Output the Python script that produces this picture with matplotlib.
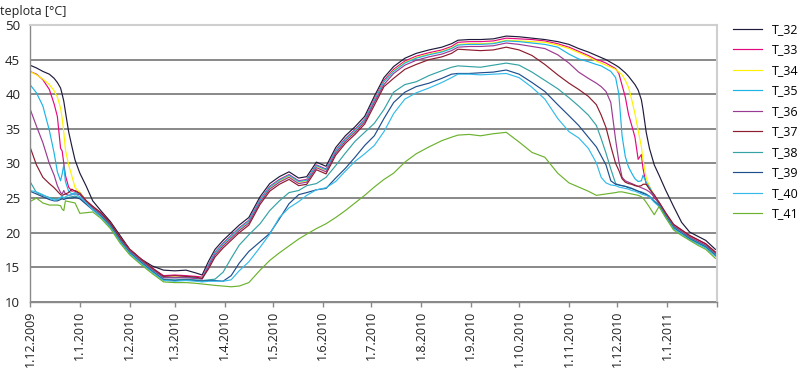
import matplotlib
matplotlib.use('Agg')
import matplotlib.pyplot as plt
import pandas as pd

plt.rcParams['font.family'] = ['Open Sans', 'DejaVu Sans']

start_date = '2009-12-01'
end_date = '2011-02-01'

# day offsets from 1.12.2009 at which values were read
day_offsets = [0, 4, 8, 12, 15, 17, 19, 20, 21, 22,
               24, 26, 28, 31, 35, 39, 44, 50, 56, 62,
               69, 76, 83, 90, 97, 103, 107, 111, 115, 120,
               125, 130, 136, 143, 149, 155, 161, 167, 172, 178,
               184, 190, 196, 202, 208, 214, 220, 226, 233, 240,
               248, 256, 262, 266, 273, 280, 288, 296, 304, 312,
               320, 328, 335, 341, 347, 352, 355, 358, 361, 364,
               366, 368, 370, 372, 374, 376, 378, 380, 381, 383,
               385, 388, 391, 395, 400, 405, 410, 415, 420, 426]

T_32 = [44.2, 43.8, 43.3, 42.9, 42.3, 41.7, 40.9, 40.0, 39.0, 37.5,
        34.6, 32.5, 30.5, 28.6, 26.7, 24.6, 23.2, 21.6, 19.6, 17.6,
        16.2, 15.2, 14.6, 14.5, 14.6, 14.2, 13.9, 15.9, 17.6, 18.9,
        20.0, 21.1, 22.2, 25.2, 27.1, 28.1, 28.8, 27.9, 28.1, 30.2,
        29.6, 32.3, 34.0, 35.3, 36.8, 39.7, 42.4, 44.0, 45.2, 45.9,
        46.4, 46.8, 47.3, 47.8, 47.9, 47.9, 48.0, 48.4, 48.3, 48.1,
        47.9, 47.6, 47.2, 46.6, 46.1, 45.6, 45.3, 45.0, 44.6, 44.2,
        43.9, 43.5, 43.1, 42.6, 42.0, 41.4, 40.6, 39.2, 37.8, 34.5,
        32.2, 29.8, 28.3, 26.2, 23.8, 21.5, 20.1, 19.5, 18.9, 17.6]

T_33 = [43.3, 42.9, 42.1, 40.7, 38.6, 36.8, 32.2, 31.8, 30.0, 28.3,
        26.6, 26.0, 26.1, 25.8, 24.6, 23.8, 22.9, 21.4, 19.3, 17.6,
        16.2, 14.9, 13.8, 13.9, 13.8, 13.7, 13.6, 15.4, 17.2, 18.5,
        19.6, 20.7, 21.8, 24.8, 26.7, 27.7, 28.4, 27.5, 27.7, 29.8,
        29.2, 31.9, 33.6, 34.9, 36.4, 39.3, 42.0, 43.6, 44.8, 45.5,
        46.0, 46.4, 46.9, 47.5, 47.6, 47.6, 47.7, 48.1, 48.0, 47.9,
        47.7, 47.3, 46.8, 46.2, 45.6, 45.0, 44.8, 44.5, 44.1, 43.7,
        43.0, 41.3, 39.6, 37.1, 35.5, 33.8, 30.6, 31.3, 29.3, 27.0,
        26.6, 25.0, 24.4, 22.9, 21.2, 20.4, 19.6, 19.0, 18.4, 17.2]

T_34 = [43.3, 42.8, 42.2, 41.4, 40.5, 39.6, 38.0, 36.5, 34.5, 32.0,
        29.8, 28.2, 26.5, 25.8, 24.5, 23.7, 22.8, 21.3, 19.2, 17.5,
        16.1, 14.8, 13.6, 13.6, 13.6, 13.5, 13.4, 15.2, 17.0, 18.3,
        19.4, 20.5, 21.6, 24.6, 26.5, 27.5, 28.2, 27.3, 27.5, 29.6,
        29.0, 31.7, 33.4, 34.7, 36.2, 39.1, 41.8, 43.4, 44.6, 45.3,
        45.8, 46.2, 46.7, 47.2, 47.3, 47.3, 47.4, 47.8, 47.7, 47.6,
        47.5, 47.1, 46.6, 46.0, 45.4, 44.8, 44.5, 44.2, 43.9, 43.6,
        43.2, 42.8, 42.0, 41.0, 39.2, 37.2, 34.8, 32.4, 30.5, 27.9,
        26.7, 25.4, 24.2, 22.7, 21.0, 20.2, 19.4, 18.8, 18.2, 17.0]

T_35 = [41.4, 40.2, 38.3, 34.8, 31.5, 28.8, 27.5, 28.5, 29.8, 27.4,
        26.0, 25.6, 25.8, 25.6, 24.4, 23.6, 22.7, 21.2, 19.1, 17.4,
        16.0, 14.7, 13.6, 13.5, 13.6, 13.5, 13.4, 15.3, 17.1, 18.4,
        19.5, 20.6, 21.7, 24.7, 26.6, 27.6, 28.3, 27.4, 27.6, 29.7,
        29.1, 31.8, 33.5, 34.8, 36.3, 39.1, 41.8, 43.3, 44.5, 45.2,
        45.7, 46.1, 46.6, 47.1, 47.2, 47.2, 47.3, 47.7, 47.6, 47.4,
        47.2, 46.8, 45.8, 45.1, 44.7, 44.3, 44.1, 43.7, 43.3, 42.4,
        40.0, 34.0, 31.0, 29.5, 28.6, 27.8, 27.4, 27.5, 28.3, 27.3,
        26.6, 25.3, 24.1, 22.6, 20.9, 20.1, 19.3, 18.7, 18.1, 16.9]

T_36 = [37.9, 35.4, 33.0, 30.0, 28.3, 26.8, 25.8, 25.6, 26.1, 25.6,
        25.4, 25.5, 25.6, 25.5, 24.4, 23.6, 22.7, 21.2, 19.1, 17.4,
        16.0, 14.7, 13.5, 13.5, 13.5, 13.4, 13.3, 15.1, 16.8, 18.1,
        19.2, 20.3, 21.4, 24.4, 26.3, 27.3, 28.0, 27.1, 27.3, 29.4,
        28.8, 31.5, 33.2, 34.5, 36.0, 38.8, 41.4, 43.0, 44.2, 44.9,
        45.4, 45.8, 46.3, 46.8, 46.9, 46.9, 47.0, 47.4, 47.2, 46.9,
        46.6, 45.7, 44.5, 43.2, 42.3, 41.6, 41.1, 40.4, 38.8, 33.4,
        30.3, 28.0, 27.5, 27.3, 27.1, 26.9, 26.7, 26.5, 26.4, 26.2,
        25.9, 25.2, 24.2, 22.7, 21.0, 20.2, 19.4, 18.8, 18.2, 17.0]

T_37 = [32.4, 29.8, 28.0, 27.1, 26.5, 26.0, 25.5, 25.4, 25.5, 25.6,
        25.8, 26.3, 26.0, 25.7, 24.6, 23.8, 22.9, 21.4, 19.3, 17.6,
        16.2, 14.9, 13.7, 13.8, 13.7, 13.6, 13.4, 14.8, 16.5, 17.8,
        18.9, 20.0, 21.1, 24.1, 26.0, 27.0, 27.7, 26.8, 27.0, 29.1,
        28.5, 31.2, 32.9, 34.2, 35.7, 38.4, 41.1, 42.3, 43.6, 44.3,
        45.0, 45.4, 45.9, 46.5, 46.4, 46.3, 46.4, 46.8, 46.4, 45.6,
        44.3, 42.8, 41.6, 40.7, 39.7, 38.5, 37.0, 35.2, 32.5, 30.0,
        29.0, 27.8, 27.3, 27.1, 27.0, 26.8, 26.7, 26.8, 27.0, 27.0,
        26.3, 25.5, 24.4, 22.9, 21.2, 20.4, 19.6, 19.0, 18.4, 17.2]

T_38 = [27.4, 25.8, 25.4, 25.1, 24.9, 24.8, 25.0, 25.1, 25.0, 25.0,
        25.1, 25.2, 25.3, 25.0, 24.2, 23.4, 22.5, 21.0, 18.9, 17.2,
        15.8, 14.5, 13.3, 13.2, 13.3, 13.2, 13.1, 13.2, 13.3, 14.3,
        16.3, 18.2, 19.7, 21.3, 23.2, 24.6, 25.8, 26.1, 26.8, 27.1,
        28.0, 29.7, 31.5, 33.2, 34.5, 35.8, 37.8, 40.3, 41.4, 41.8,
        42.7, 43.4, 43.9, 44.1, 44.0, 43.9, 44.2, 44.5, 44.2, 43.2,
        42.0, 40.8, 39.5, 38.3, 37.0, 35.5, 33.6, 31.5, 29.2, 27.1,
        26.9, 26.8, 26.7, 26.6, 26.4, 26.2, 26.0, 25.9, 25.8, 25.6,
        25.3, 24.6, 24.0, 22.5, 20.8, 20.0, 19.2, 18.6, 18.0, 16.8]

T_39 = [26.0, 25.6, 25.2, 24.8, 24.6, 24.6, 24.8, 24.9, 24.8, 24.9,
        25.0, 25.0, 25.1, 24.9, 24.1, 23.3, 22.4, 20.9, 18.8, 17.1,
        15.7, 14.4, 13.2, 13.1, 13.2, 13.1, 13.0, 13.1, 13.1, 13.0,
        13.8, 15.6, 17.3, 18.7, 19.9, 22.0, 24.2, 25.5, 25.8, 26.2,
        26.4, 27.9, 29.3, 30.9, 32.6, 34.0, 36.5, 38.8, 40.3, 41.1,
        41.6, 42.3, 42.9, 43.0, 43.0, 43.1, 43.2, 43.5, 42.9, 41.7,
        40.4, 38.5, 36.9, 35.5, 33.8, 32.4, 31.1, 29.8, 27.5, 27.0,
        26.9, 26.8, 26.7, 26.5, 26.4, 26.2, 26.0, 25.8, 25.7, 25.5,
        25.2, 24.5, 23.9, 22.4, 20.7, 19.9, 19.1, 18.5, 17.9, 16.7]

T_40 = [26.1, 25.9, 25.5, 25.0, 24.7, 24.8, 25.1, 25.3, 25.0, 25.2,
        25.4, 25.5, 25.6, 25.2, 24.3, 23.3, 22.3, 20.8, 18.7, 17.0,
        15.6, 14.3, 13.1, 13.0, 13.1, 13.0, 12.9, 13.0, 13.0, 13.0,
        13.2, 14.5, 15.8, 17.9, 19.8, 22.2, 23.6, 24.5, 25.4, 26.2,
        26.5, 27.4, 28.9, 30.3, 31.4, 32.6, 34.6, 37.2, 39.3, 40.2,
        40.9, 41.7, 42.4, 42.9, 42.9, 42.8, 42.9, 43.0, 42.4, 41.0,
        39.3, 36.5, 34.6, 33.7, 32.2, 30.1, 28.0, 27.2, 26.9, 26.8,
        26.6, 26.5, 26.4, 26.3, 26.1, 26.0, 25.8, 25.6, 25.5, 25.4,
        25.2, 24.4, 23.8, 22.3, 20.6, 19.8, 19.0, 18.4, 17.8, 16.6]

T_41 = [24.5, 25.0, 24.3, 24.0, 24.0, 24.0, 23.9, 23.4, 23.2, 24.6,
        24.5, 24.4, 24.3, 22.8, 22.9, 23.0, 22.1, 20.6, 18.5, 16.8,
        15.4, 14.1, 12.9, 12.8, 12.8, 12.7, 12.6, 12.5, 12.4, 12.3,
        12.2, 12.3, 12.8, 14.6, 16.0, 17.1, 18.1, 19.1, 19.8, 20.6,
        21.3, 22.2, 23.2, 24.3, 25.4, 26.6, 27.7, 28.6, 30.2, 31.4,
        32.4, 33.3, 33.8, 34.1, 34.2, 34.0, 34.3, 34.5, 33.1, 31.6,
        30.9, 28.6, 27.2, 26.6, 26.0, 25.4, 25.5, 25.6, 25.7, 25.8,
        25.9, 25.9, 25.8, 25.7, 25.6, 25.5, 25.4, 25.2, 25.0, 24.4,
        23.7, 22.6, 23.8, 22.2, 20.4, 19.6, 18.9, 18.2, 17.6, 16.3]

series_names = ['T_32', 'T_33', 'T_34', 'T_35', 'T_36',
                'T_37', 'T_38', 'T_39', 'T_40', 'T_41']
series_values = [T_32, T_33, T_34, T_35, T_36, T_37, T_38, T_39, T_40, T_41]
series_colors = ['#1e1b3c', '#e5097f', '#fff200', '#1cb3e6', '#9b3a93',
                 '#8c1c2e', '#35a2a3', '#1f4e8d', '#35bbea', '#6cb22e']

tick_dates = ['2009-12-01', '2010-01-01', '2010-02-01', '2010-03-01', '2010-04-01',
              '2010-05-01', '2010-06-01', '2010-07-01', '2010-08-01', '2010-09-01',
              '2010-10-01', '2010-11-01', '2010-12-01', '2011-01-01', '2011-02-01']
tick_labels = ['1.12.2009', '1.1.2010', '1.2.2010', '1.3.2010', '1.4.2010',
               '1.5.2010', '1.6.2010', '1.7.2010', '1.8.2010', '1.9.2010',
               '1.10.2010', '1.11.2010', '1.12.2010', '1.1.2011', '']
y_ticks = [10, 15, 20, 25, 30, 35, 40, 45, 50]

fig = plt.figure(figsize=(8, 3.76), dpi=100)
ax = fig.add_axes([30 / 800, 1 - 302 / 376, 687 / 800, 277 / 376])

dates = pd.Timestamp(start_date) + pd.to_timedelta(day_offsets, unit='D')
for name, vals, col in zip(series_names, series_values, series_colors):
    ax.plot(dates, vals, color=col, lw=0.85, label=name, solid_joinstyle='round')

ax.set_xlim(pd.Timestamp(start_date), pd.Timestamp(end_date))
ax.set_ylim(y_ticks[0], y_ticks[-1])
ax.set_yticks(y_ticks)
ax.set_yticklabels([str(v) for v in y_ticks])
ax.set_xticks(pd.to_datetime(tick_dates))
ax.set_xticklabels(tick_labels, rotation=90, ha='center', va='top')

ax.grid(axis='y', color='#7f7f7f', lw=1.3, zorder=0)
ax.set_axisbelow(True)
ygl = ax.get_ygridlines()
ygl[-1].set_color('#cfcfcf')

for s in ['left', 'bottom']:
    ax.spines[s].set_color('#8a8a8a')
    ax.spines[s].set_linewidth(1.0)
for s in ['top', 'right']:
    ax.spines[s].set_color('#cfcfcf')
    ax.spines[s].set_linewidth(1.5)

ax.tick_params(axis='y', length=0, pad=7, labelsize=9.5, labelcolor='#222222')
ax.tick_params(axis='x', direction='out', length=3.5, width=1, color='#8a8a8a',
               pad=3, labelsize=9, labelcolor='#222222')

fig.text(0.0, 1 - 12 / 376, 'teplota [°C]', fontsize=9, ha='left', va='center', color='#222222')

handles, labels = ax.get_legend_handles_labels()
fig.legend(handles, labels, loc='upper left', bbox_to_anchor=(733 / 800, 1 - 23 / 376),
           frameon=False, fontsize=9, handlelength=2.3, handletextpad=0.8,
           labelspacing=0.6, borderpad=0, borderaxespad=0)

fig.savefig('out.png', dpi=100)
